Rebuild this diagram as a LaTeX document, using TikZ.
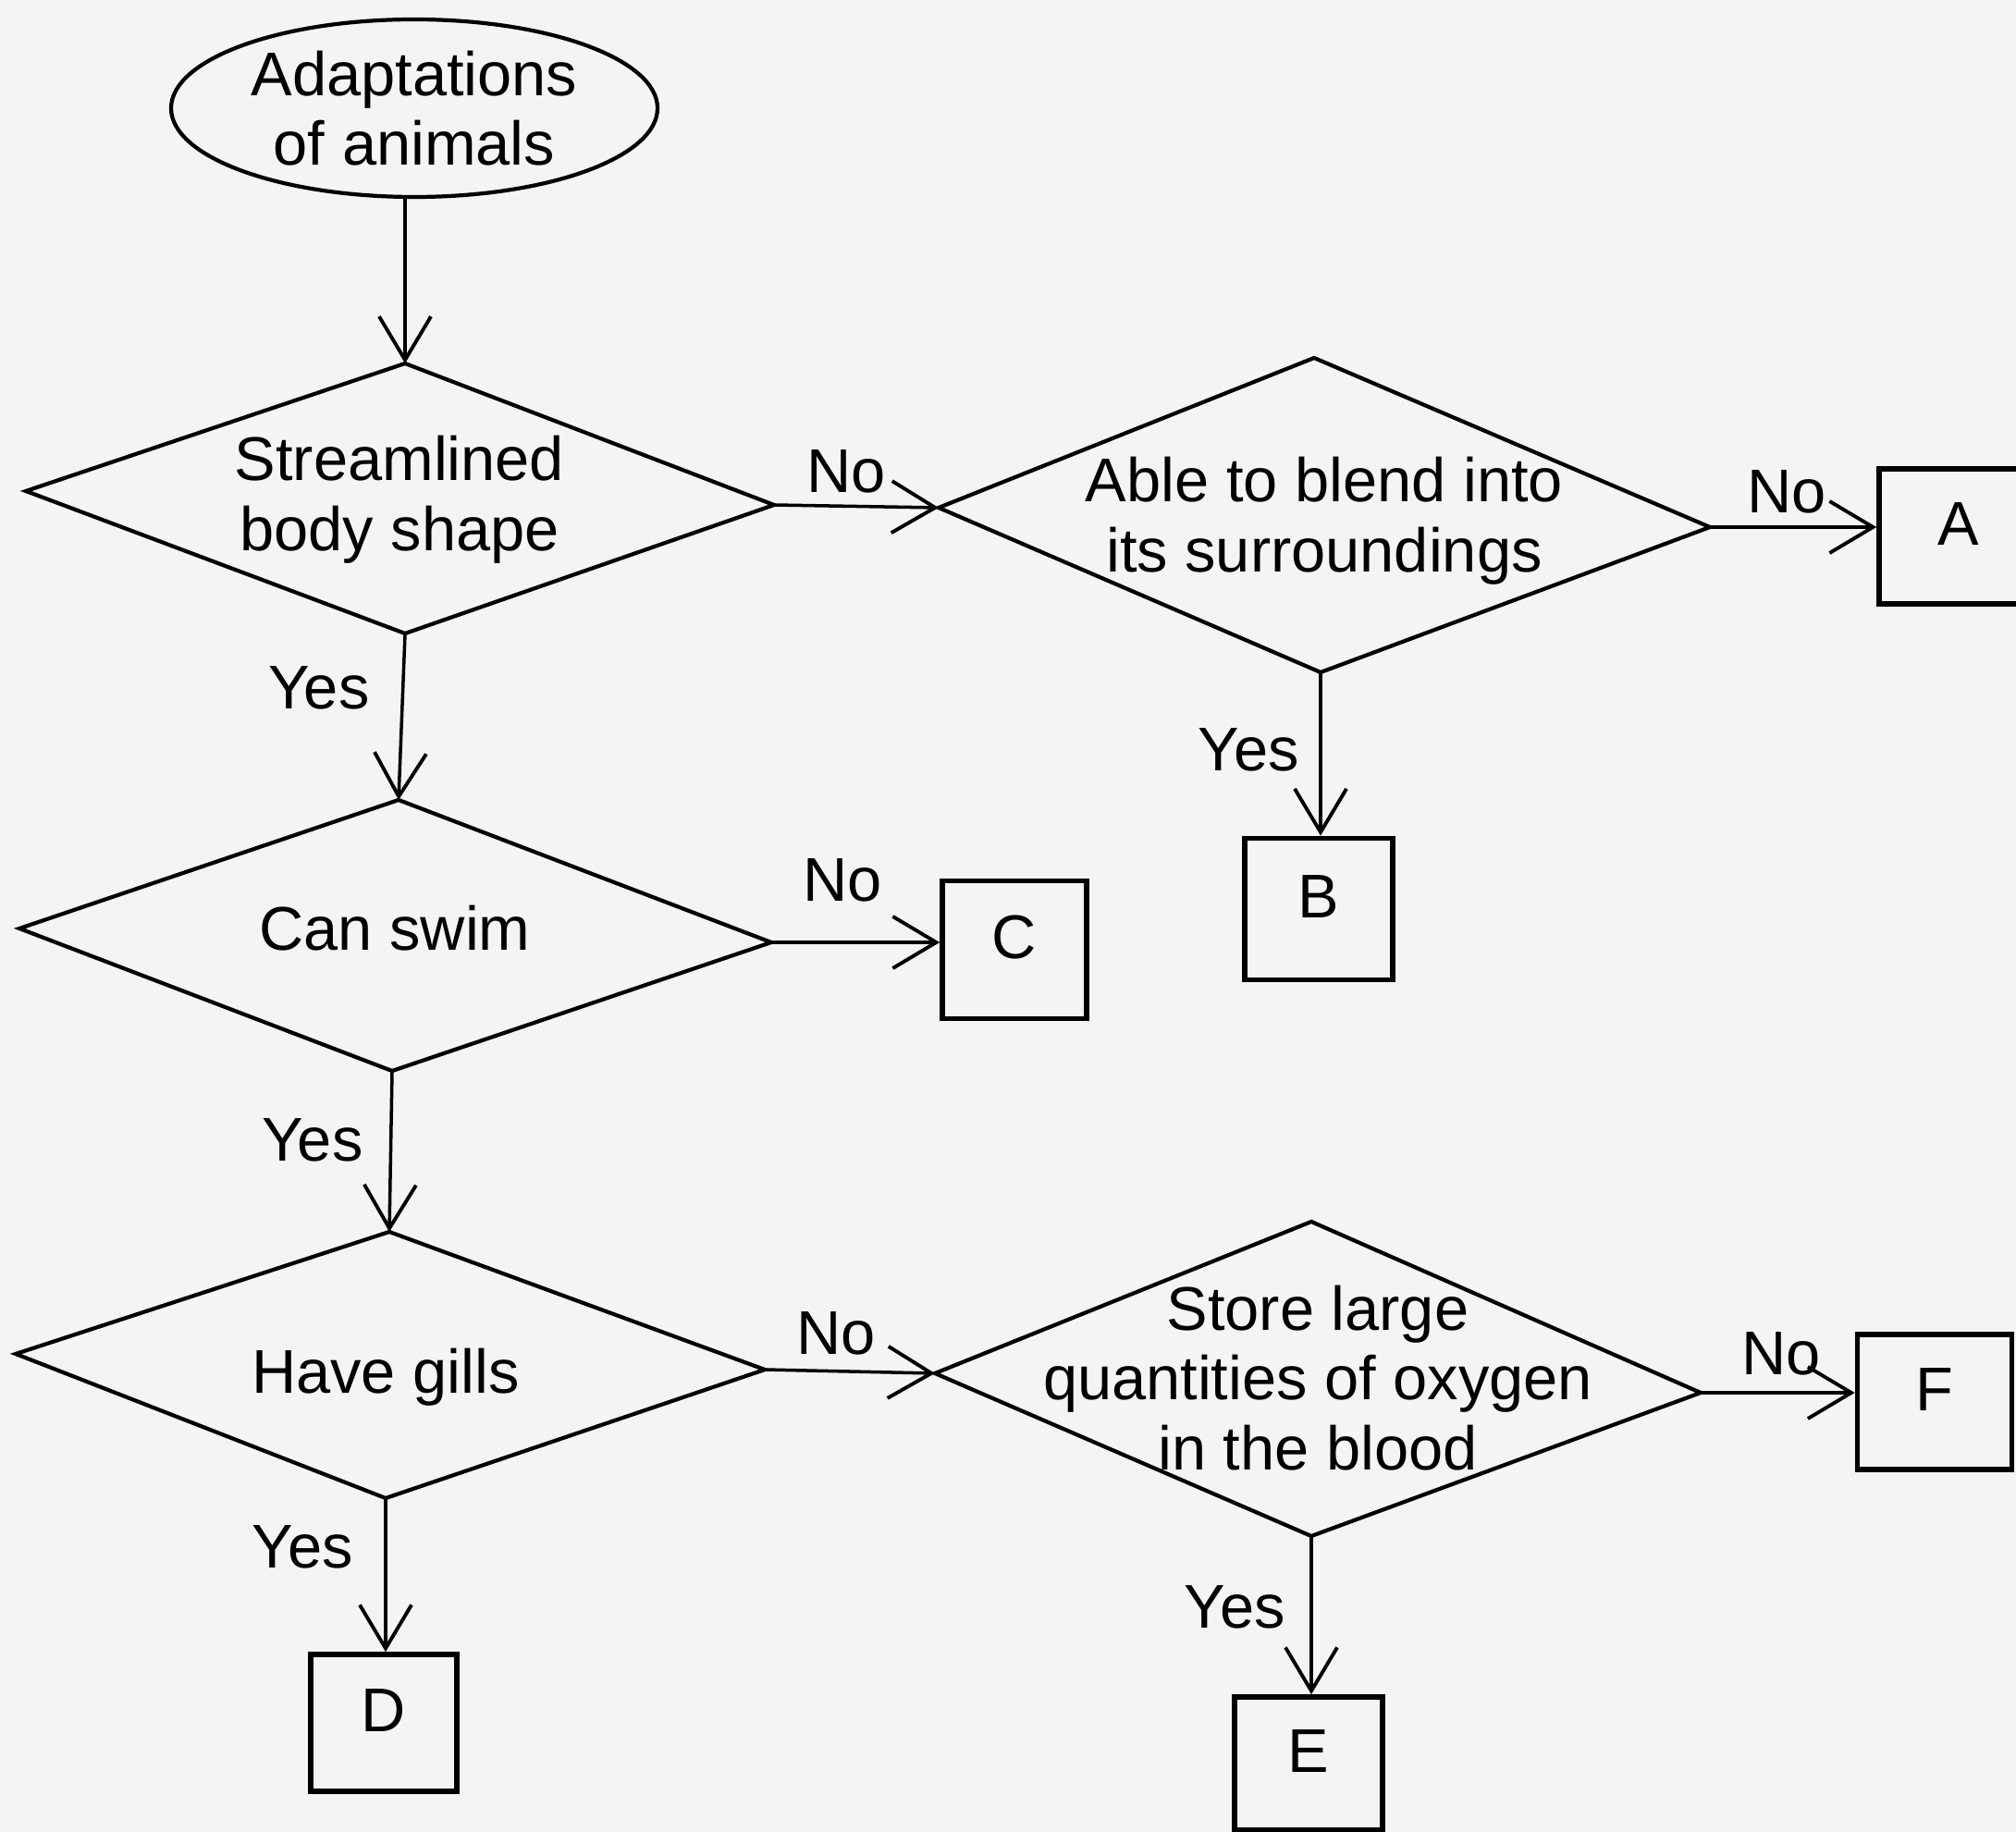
\documentclass[tikz,border=0pt]{standalone}
\usepackage{fontspec}
\setmainfont{Liberation Sans}
\usetikzlibrary{arrows.meta,shapes.geometric}
\definecolor{bgc}{HTML}{F4F4F4}
\begin{document}
\begin{tikzpicture}[
  txt/.style={font=\fontsize{19}{21.5}\selectfont, align=center, inner sep=0pt},
  lbl/.style={font=\fontsize{19}{21.5}\selectfont, inner sep=0pt},
  dia/.style={draw=black, line width=1.2pt, line join=miter},
  leaf/.style={draw=black, line width=1.6pt, font=\fontsize{19}{21.5}\selectfont, text height=0.46cm, text depth=0.28cm},
  conn/.style={draw=black, line width=1pt, -{Straight Barb[length=0.47cm, width=0.56cm, line width=1.1pt]}}
]
\fill[bgc] (0,0) rectangle (21.80,-19.81);
\useasboundingbox (0,0) rectangle (21.80,-19.81);

% start ellipse
\node[ellipse, draw=black, line width=1.2pt, minimum width=5.26cm, minimum height=1.92cm, txt] (start) at (4.48,-1.17) {Adaptations\\of animals};

% diamond 1
\coordinate (d1l) at (0.28,-5.31);
\coordinate (d1t) at (4.38,-3.93);
\coordinate (d1r) at (8.37,-5.46);
\coordinate (d1b) at (4.38,-6.85);
\draw[dia] (d1l) -- (d1t) -- (d1r) -- (d1b) -- cycle;
\node[txt] (d1) at (4.32,-5.40) {Streamlined\\body shape};

% diamond 2
\coordinate (d2l) at (10.15,-5.49);
\coordinate (d2t) at (14.21,-3.87);
\coordinate (d2r) at (18.49,-5.70);
\coordinate (d2b) at (14.28,-7.27);
\draw[dia] (d2l) -- (d2t) -- (d2r) -- (d2b) -- cycle;
\node[txt] (d2) at (14.32,-5.63) {Able to blend into\\its surroundings};

% diamond 3
\coordinate (d3l) at (0.21,-10.04);
\coordinate (d3t) at (4.31,-8.65);
\coordinate (d3r) at (8.34,-10.19);
\coordinate (d3b) at (4.24,-11.58);
\draw[dia] (d3l) -- (d3t) -- (d3r) -- (d3b) -- cycle;
\node[txt] (d3) at (4.27,-10.04) {Can swim};

% diamond 4
\coordinate (d4l) at (0.17,-14.64);
\coordinate (d4t) at (4.21,-13.32);
\coordinate (d4r) at (8.27,-14.81);
\coordinate (d4b) at (4.17,-16.20);
\draw[dia] (d4l) -- (d4t) -- (d4r) -- (d4b) -- cycle;
\node[txt] (d4) at (4.17,-14.89) {Have gills};

% diamond 5
\coordinate (d5l) at (10.11,-14.85);
\coordinate (d5t) at (14.18,-13.21);
\coordinate (d5r) at (18.39,-15.06);
\coordinate (d5b) at (14.18,-16.61);
\draw[dia] (d5l) -- (d5t) -- (d5r) -- (d5b) -- cycle;
\node[txt] (d5) at (14.25,-14.90) {Store large\\quantities of oxygen\\in the blood};

% leaves
\node[leaf, minimum width=1.72cm, minimum height=1.46cm] (A) at (21.18,-5.80) {A};
\node[leaf, minimum width=1.60cm, minimum height=1.53cm] (B) at (14.26,-9.83) {B};
\node[leaf, minimum width=1.56cm, minimum height=1.49cm] (C) at (10.97,-10.27) {C};
\node[leaf, minimum width=1.58cm, minimum height=1.48cm] (D) at (4.15,-18.63) {D};
\node[leaf, minimum width=1.60cm, minimum height=1.44cm] (E) at (14.15,-19.07) {E};
\node[leaf, minimum width=1.67cm, minimum height=1.46cm] (F) at (20.92,-15.16) {F};

% connectors
\draw[conn] (start.south -| d1t) -- (d1t);
\draw[conn] (d1r) -- (d2l);
\draw[conn] (d2r) -- (A.west |- d2r);
\draw[conn] (d2b) -- (B.north -| d2b);
\draw[conn] (d1b) -- (d3t);
\draw[conn] (d3r) -- (C.west |- d3r);
\draw[conn] (d3b) -- (d4t);
\draw[conn] (d4r) -- (d5l);
\draw[conn] (d5r) -- (F.west |- d5r);
\draw[conn] (d5b) -- (E.north -| d5b);
\draw[conn] (d4b) -- (D.north -| d4b);

% labels
\node[lbl] (n1) at (9.15,-5.10) {No};
\node[lbl] (n2) at (19.32,-5.32) {No};
\node[lbl] (n3) at (9.11,-9.52) {No};
\node[lbl] (n4) at (9.04,-14.42) {No};
\node[lbl] (n5) at (19.26,-14.64) {No};
\node[lbl] (y1) at (3.45,-7.44) {Yes};
\node[lbl] (y2) at (13.50,-8.11) {Yes};
\node[lbl] (y3) at (3.38,-12.33) {Yes};
\node[lbl] (y4) at (3.27,-16.73) {Yes};
\node[lbl] (y5) at (13.35,-17.38) {Yes};
\end{tikzpicture}
\end{document}
